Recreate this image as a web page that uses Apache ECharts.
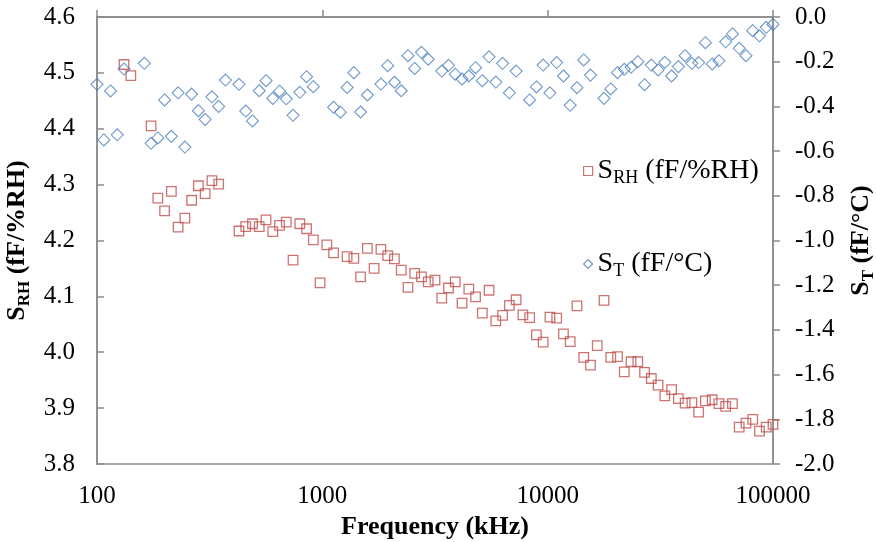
<!DOCTYPE html>
<html><head><meta charset="utf-8">
<script src="https://cdn.jsdelivr.net/npm/echarts@6/dist/echarts.min.js"></script>
<style>html,body{margin:0;padding:0;background:#fff}#c{width:876px;height:542px}</style>
</head><body><div id="c"></div>
<script>
// Frequency sweep (kHz), log-spaced measurement points
const freqKHz = [100,107.2,114.8,123.0,131.8,141.3,151.4,162.2,173.8,186.2,
199.5,213.8,229.1,245.5,263.0,281.8,302.0,323.6,346.7,371.5,
398.1,426.6,457.1,489.8,524.8,562.3,602.6,645.7,691.8,741.3,
794.3,851.1,912.0,977.2,1047,1122,1202,1288,1380,1479,
1585,1698,1820,1950,2089,2239,2399,2570,2754,2951,
3162,3388,3631,3890,4169,4467,4786,5129,5495,5888,
6310,6761,7244,7762,8318,8913,9550,10233,10965,11749,
12589,13490,14454,15488,16596,17783,19055,20417,21878,23442,
25119,26915,28840,30903,33113,35481,38019,40738,43652,46774,
50119,53703,57544,61660,66069,70795,75858,81283,87096,93325,100000];

// S_RH (fF/%RH), left axis
const sRH = [null,null,null,null,4.515,4.495,null,null,4.405,4.276,
4.253,4.288,4.224,4.240,4.272,4.298,4.284,4.307,4.301,null,
null,4.217,4.225,4.230,4.225,4.237,4.216,4.227,4.233,4.165,
4.230,4.221,4.201,4.124,4.192,4.178,null,4.171,4.168,4.135,
4.186,4.150,4.184,4.173,4.167,4.147,4.116,4.141,4.135,4.126,
4.129,4.097,4.115,4.126,4.088,4.113,4.099,4.070,4.111,4.056,
4.066,4.084,4.094,4.067,4.062,4.031,4.018,4.063,4.061,4.033,
4.019,4.083,3.991,3.977,4.012,4.093,3.991,3.992,3.965,3.983,
3.983,3.964,3.953,3.941,3.922,3.933,3.917,3.909,3.910,3.893,
3.913,3.915,3.908,3.903,3.908,3.866,3.873,3.880,3.859,3.866,3.871];

// S_T (fF/°C), right axis
const sT = [-0.301,-0.550,-0.331,-0.527,-0.233,null,null,-0.207,-0.565,-0.541,
-0.371,-0.534,-0.339,-0.582,-0.345,-0.419,-0.458,-0.357,-0.400,-0.282,
null,-0.301,-0.421,-0.465,-0.330,-0.285,-0.364,-0.332,-0.366,-0.440,
-0.337,-0.267,-0.312,null,null,-0.404,-0.426,-0.315,-0.249,-0.425,
-0.349,null,-0.300,-0.218,-0.292,-0.330,-0.173,-0.230,-0.158,-0.189,
null,-0.242,-0.216,-0.256,-0.277,-0.264,-0.227,-0.285,-0.178,-0.291,
-0.207,-0.339,-0.242,null,-0.371,-0.313,-0.215,-0.339,-0.204,-0.264,
-0.395,-0.316,-0.192,-0.260,null,-0.364,-0.322,-0.249,-0.234,-0.225,
-0.200,-0.303,-0.215,-0.237,-0.203,-0.264,-0.222,-0.173,-0.207,-0.204,
-0.115,-0.210,-0.196,-0.111,-0.076,-0.140,-0.173,-0.061,-0.084,-0.046,-0.033];

const xRange = [100, 100000];
const yLeftRange = [3.8, 4.6, 0.1];
const yRightRange = [-2.0, 0.0, 0.2];

const FONT = "'Liberation Serif','Times New Roman',serif";
const AX = '#8a8a8a';
const RED = '#c0504d';
const BLUE = '#4a7ebb';

function pairs(ys) {
  const out = [];
  for (let i = 0; i < freqKHz.length; i++) if (ys[i] != null) out.push([freqKHz[i], ys[i]]);
  return out;
}

const chart = echarts.init(document.getElementById('c'));
const richName = {
  m: {fontFamily: FONT, fontSize: 26, fontWeight: 'bold', color: '#000', lineHeight: 32},
  s: {fontFamily: FONT, fontSize: 17, fontWeight: 'bold', color: '#000', verticalAlign: 'bottom'}
};
chart.setOption({
  animation: false,
  backgroundColor: '#fff',
  grid: {left: 97, right: 103, top: 17, bottom: 78, outerBoundsMode: 'none', containLabel: false,
         show: true, borderColor: AX, borderWidth: 1.5, backgroundColor: 'transparent'},
  legend: {
    orient: 'vertical', left: 578, top: 152, itemWidth: 9, itemHeight: 9, itemGap: 63,
    selectedMode: false,
    data: [
      {name: 'SRH', icon: 'rect', itemStyle: {color: 'rgba(0,0,0,0)', borderColor: RED, borderWidth: 1.2}},
      {name: 'ST', icon: 'diamond', itemStyle: {color: 'rgba(0,0,0,0)', borderColor: BLUE, borderWidth: 1.2}}
    ],
    formatter: n => n === 'SRH' ? '{m|S}{s|RH}{m| (fF/%RH)}' : '{m|S}{s|T}{m| (fF/°C)}',
    textStyle: {
      rich: {
        m: {fontFamily: FONT, fontSize: 28, color: '#000', lineHeight: 32},
        s: {fontFamily: FONT, fontSize: 18, color: '#000', verticalAlign: 'bottom'}
      }
    }
  },
  xAxis: {
    type: 'log', logBase: 10, min: xRange[0], max: xRange[1],
    name: 'Frequency (kHz)', nameLocation: 'middle', nameGap: 40,
    nameTextStyle: {fontFamily: FONT, fontSize: 26, fontWeight: 'bold', color: '#000'},
    axisLine: {show: true, lineStyle: {color: AX, width: 1.5}},
    axisTick: {show: true, inside: true, length: 7, lineStyle: {color: AX, width: 1.5}},
    minorTick: {show: false},
    splitLine: {show: false},
    axisLabel: {margin: 20, fontFamily: FONT, fontSize: 25, color: '#000', formatter: v => String(Math.round(v))}
  },
  yAxis: [
    {
      type: 'value', position: 'left', min: yLeftRange[0], max: yLeftRange[1], interval: yLeftRange[2],
      name: '{m|S}{s|RH}{m| (fF/%RH)}', nameLocation: 'middle', nameGap: 58,
      nameTextStyle: {rich: richName},
      axisLine: {show: true, lineStyle: {color: AX, width: 1.5}},
      axisTick: {show: true, inside: true, length: 7, lineStyle: {color: AX, width: 1.5}},
      splitLine: {show: false},
      axisLabel: {margin: 22, fontFamily: FONT, fontSize: 25, color: '#000', formatter: v => v.toFixed(1)}
    },
    {
      type: 'value', position: 'right', min: yRightRange[0], max: yRightRange[1], interval: yRightRange[2],
      name: '{m|S}{s|T}{m| (fF/°C)}', nameLocation: 'middle', nameGap: 72, nameRotate: 90,
      nameTextStyle: {rich: richName},
      axisLine: {show: true, lineStyle: {color: AX, width: 1.5}},
      axisTick: {show: true, inside: false, length: 7, lineStyle: {color: AX, width: 1.5}},
      splitLine: {show: false},
      axisLabel: {margin: 22, fontFamily: FONT, fontSize: 25, color: '#000', formatter: v => v.toFixed(1)}
    }
  ],
  series: [
    {
      name: 'SRH', type: 'scatter', yAxisIndex: 0, symbol: 'rect', symbolSize: 9.5,
      itemStyle: {color: 'rgba(0,0,0,0)', borderColor: RED, borderWidth: 1.3},
      emphasis: {disabled: true},
      data: pairs(sRH)
    },
    {
      name: 'ST', type: 'scatter', yAxisIndex: 1, symbol: 'diamond', symbolSize: 12,
      itemStyle: {color: 'rgba(0,0,0,0)', borderColor: BLUE, borderWidth: 1.1},
      emphasis: {disabled: true},
      data: pairs(sT)
    }
  ]
});
</script>
</body></html>
